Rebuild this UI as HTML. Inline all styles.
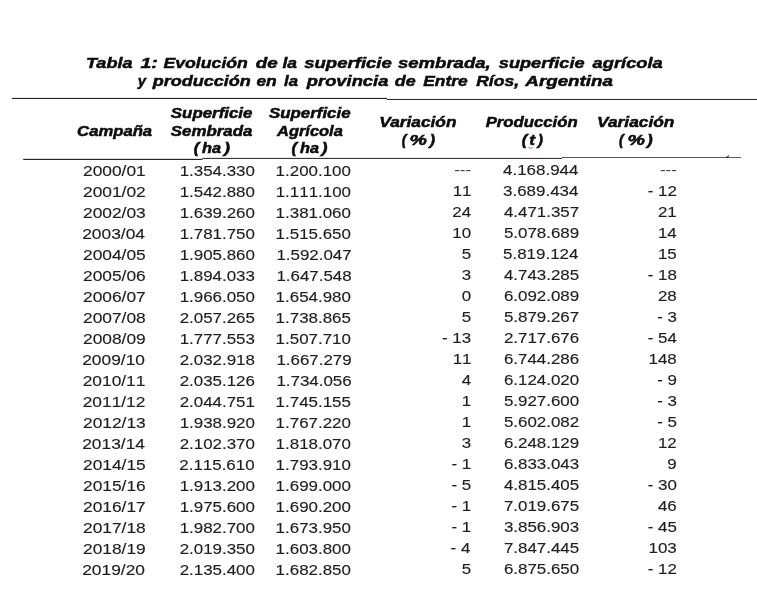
<!DOCTYPE html>
<html lang="es"><head><meta charset="utf-8"><title>Tabla 1</title>
<style>
html,body{margin:0;padding:0;background:#fff;}
body{width:757px;height:600px;overflow:hidden;font-family:"Liberation Sans",sans-serif;}
svg{display:block;filter:blur(0.35px);}
text{font-family:"Liberation Sans",sans-serif;}
.r{font-kerning:none;font-weight:400;font-style:normal;font-size:15.3px;fill:#1e1e1e;stroke:#1e1e1e;stroke-width:0.15px;}
.b{font-weight:700;font-style:italic;font-size:14.5px;fill:#0c0c0c;stroke:#0c0c0c;stroke-width:0.5px;}
.b.t{font-size:15.3px;}
.d{fill:#444;stroke:none;}
</style></head><body>
<svg width="757" height="600" viewBox="0 0 757 600">
<rect width="757" height="600" fill="#fff"/>
<rect x="11.9" y="97.9" width="375.1" height="1.05" fill="#1a1a1a"/>
<rect x="386.8" y="98.95" width="370.2" height="0.95" fill="#1a1a1a"/>
<rect x="23.2" y="158.85" width="179.3" height="1.1" fill="#1a1a1a"/>
<rect x="202.3" y="157.9" width="359.8" height="1.0" fill="#222"/>
<rect x="562" y="157.2" width="179" height="0.8" fill="#333"/>
<path d="M725.3 157.4 L729 155 L728.6 157.4 Z" fill="#333"/>
<path d="M528.3 147.3 q1.1 1.7 2.2 0.6 q1.1 1 2.2 -0.7" stroke="#e23a4a" stroke-width="0.9" fill="none"/>
<text class="b t" transform="translate(85.97,67.50) scale(1.1809,1)">Tabla</text>
<text class="b t" transform="translate(140.47,67.50) scale(1.2689,1)">1:</text>
<text class="b t" transform="translate(163.40,67.50) scale(1.1566,1)">Evolución</text>
<text class="b t" transform="translate(255.87,67.50) scale(1.2303,1)">de</text>
<text class="b t" transform="translate(282.39,67.50) scale(1.1393,1)">la</text>
<text class="b t" transform="translate(304.20,67.50) scale(1.2123,1)">superficie</text>
<text class="b t" transform="translate(397.90,67.50) scale(1.2144,1)">sembrada,</text>
<text class="b t" transform="translate(498.79,67.50) scale(1.1874,1)">superficie</text>
<text class="b t" transform="translate(592.60,67.50) scale(1.1963,1)">agrícola</text>
<text class="b t" transform="translate(137.72,86.20) scale(0.9646,1)">y</text>
<text class="b t" transform="translate(152.64,86.20) scale(1.1788,1)">producción</text>
<text class="b t" transform="translate(256.40,86.20) scale(1.1438,1)">en</text>
<text class="b t" transform="translate(284.00,86.20) scale(1.0980,1)">la</text>
<text class="b t" transform="translate(306.84,86.20) scale(1.1996,1)">provincia</text>
<text class="b t" transform="translate(394.79,86.20) scale(1.1703,1)">de</text>
<text class="b t" transform="translate(423.30,86.20) scale(1.1340,1)">Entre</text>
<text class="b t" transform="translate(476.18,86.20) scale(1.1458,1)">Ríos,</text>
<text class="b t" transform="translate(525.36,86.20) scale(1.2275,1)">Argentina</text>
<text class="b" transform="translate(77.10,136.00) scale(1.1501,1)">Campaña</text>
<text class="b" transform="translate(170.80,117.50) scale(1.1656,1)">Superficie</text>
<text class="b" transform="translate(170.80,136.00) scale(1.1656,1)">Sembrada</text>
<text class="b" transform="translate(193.85,153.40) scale(1.1319,1)">(</text>
<text class="b" transform="translate(202.00,153.40) scale(1.1259,1)">ha</text>
<text class="b" transform="translate(223.93,153.40) scale(1.2495,1)">)</text>
<text class="b" transform="translate(268.90,117.50) scale(1.1652,1)">Superficie</text>
<text class="b" transform="translate(277.03,136.00) scale(1.1351,1)">Agrícola</text>
<text class="b" transform="translate(291.54,153.40) scale(1.1319,1)">(</text>
<text class="b" transform="translate(300.00,153.40) scale(1.1259,1)">ha</text>
<text class="b" transform="translate(321.61,153.40) scale(1.2495,1)">)</text>
<text class="b" transform="translate(379.37,126.80) scale(1.1913,1)">Variación</text>
<text class="b" transform="translate(401.80,144.80) scale(0.9600,1)">(</text>
<text class="b" transform="translate(409.46,144.80) scale(1.3464,1)">%</text>
<text class="b" transform="translate(429.60,144.80) scale(1.1621,1)">)</text>
<text class="b" transform="translate(485.70,126.80) scale(1.1542,1)">Producción</text>
<text class="b" transform="translate(521.68,144.80) scale(1.1361,1)">(</text>
<text class="b" transform="translate(529.35,144.80) scale(1.1847,1)">t</text>
<text class="b" transform="translate(537.66,144.80) scale(1.0883,1)">)</text>
<text class="b" transform="translate(597.07,126.80) scale(1.1950,1)">Variación</text>
<text class="b" transform="translate(618.90,144.80) scale(0.9600,1)">(</text>
<text class="b" transform="translate(627.62,144.80) scale(1.3515,1)">%</text>
<text class="b" transform="translate(647.06,144.80) scale(1.1854,1)">)</text>
<text class="r" transform="translate(83.00,176.00) scale(1.1349,1)">2000/01</text>
<text class="r" transform="translate(179.63,176.00) scale(1.1072,1)">1.354.330</text>
<text class="r" transform="translate(275.61,176.00) scale(1.1072,1)">1.200.100</text>
<text class="r" transform="translate(454.16,175.40) scale(1.1072,1)"><tspan dy="-0.7" class="d">---</tspan></text>
<text class="r" transform="translate(503.09,175.40) scale(1.1072,1)">4.168.944</text>
<text class="r" transform="translate(659.90,175.40) scale(1.1072,1)"><tspan dy="-0.7" class="d">---</tspan></text>
<text class="r" transform="translate(83.00,196.98) scale(1.1349,1)">2001/02</text>
<text class="r" transform="translate(179.63,196.98) scale(1.1072,1)">1.542.880</text>
<text class="r" transform="translate(275.70,196.98) scale(1.1072,1)">1.111.100</text>
<text class="r" transform="translate(452.66,196.38) scale(1.1072,1)">11</text>
<text class="r" transform="translate(503.09,196.38) scale(1.1072,1)">3.689.434</text>
<text class="r" transform="translate(647.72,196.38) scale(1.1072,1)"><tspan dy="-0.2">-</tspan><tspan dy="0.2"> 12</tspan></text>
<text class="r" transform="translate(83.00,217.96) scale(1.1349,1)">2002/03</text>
<text class="r" transform="translate(179.63,217.96) scale(1.1072,1)">1.639.260</text>
<text class="r" transform="translate(275.61,217.96) scale(1.1072,1)">1.381.060</text>
<text class="r" transform="translate(452.22,217.36) scale(1.1072,1)">24</text>
<text class="r" transform="translate(503.89,217.36) scale(1.1072,1)">4.471.357</text>
<text class="r" transform="translate(657.96,217.36) scale(1.1072,1)">21</text>
<text class="r" transform="translate(82.20,238.94) scale(1.1349,1)">2003/04</text>
<text class="r" transform="translate(179.63,238.94) scale(1.1072,1)">1.781.750</text>
<text class="r" transform="translate(275.61,238.94) scale(1.1072,1)">1.515.650</text>
<text class="r" transform="translate(452.22,238.34) scale(1.1072,1)">10</text>
<text class="r" transform="translate(503.89,238.34) scale(1.1072,1)">5.078.689</text>
<text class="r" transform="translate(657.96,238.34) scale(1.1072,1)">14</text>
<text class="r" transform="translate(83.00,259.92) scale(1.1349,1)">2004/05</text>
<text class="r" transform="translate(179.63,259.92) scale(1.1072,1)">1.905.860</text>
<text class="r" transform="translate(276.41,259.92) scale(1.1072,1)">1.592.047</text>
<text class="r" transform="translate(461.63,259.32) scale(1.1072,1)">5</text>
<text class="r" transform="translate(503.09,259.32) scale(1.1072,1)">5.819.124</text>
<text class="r" transform="translate(657.96,259.32) scale(1.1072,1)">15</text>
<text class="r" transform="translate(83.00,280.89) scale(1.1349,1)">2005/06</text>
<text class="r" transform="translate(179.63,280.89) scale(1.1072,1)">1.894.033</text>
<text class="r" transform="translate(276.41,280.89) scale(1.1072,1)">1.647.548</text>
<text class="r" transform="translate(461.63,280.29) scale(1.1072,1)">3</text>
<text class="r" transform="translate(503.89,280.29) scale(1.1072,1)">4.743.285</text>
<text class="r" transform="translate(647.72,280.29) scale(1.1072,1)"><tspan dy="-0.2">-</tspan><tspan dy="0.2"> 18</tspan></text>
<text class="r" transform="translate(83.00,301.87) scale(1.1349,1)">2006/07</text>
<text class="r" transform="translate(179.63,301.87) scale(1.1072,1)">1.966.050</text>
<text class="r" transform="translate(275.61,301.87) scale(1.1072,1)">1.654.980</text>
<text class="r" transform="translate(461.63,301.27) scale(1.1072,1)">0</text>
<text class="r" transform="translate(503.89,301.27) scale(1.1072,1)">6.092.089</text>
<text class="r" transform="translate(657.96,301.27) scale(1.1072,1)">28</text>
<text class="r" transform="translate(83.00,322.85) scale(1.1349,1)">2007/08</text>
<text class="r" transform="translate(179.63,322.85) scale(1.1072,1)">2.057.265</text>
<text class="r" transform="translate(275.61,322.85) scale(1.1072,1)">1.738.865</text>
<text class="r" transform="translate(461.63,322.25) scale(1.1072,1)">5</text>
<text class="r" transform="translate(503.89,322.25) scale(1.1072,1)">5.879.267</text>
<text class="r" transform="translate(657.13,322.25) scale(1.1072,1)"><tspan dy="-0.2">-</tspan><tspan dy="0.2"> 3</tspan></text>
<text class="r" transform="translate(83.00,343.83) scale(1.1349,1)">2008/09</text>
<text class="r" transform="translate(179.63,343.83) scale(1.1072,1)">1.777.553</text>
<text class="r" transform="translate(275.61,343.83) scale(1.1072,1)">1.507.710</text>
<text class="r" transform="translate(441.98,343.23) scale(1.1072,1)"><tspan dy="-0.2">-</tspan><tspan dy="0.2"> 13</tspan></text>
<text class="r" transform="translate(503.89,343.23) scale(1.1072,1)">2.717.676</text>
<text class="r" transform="translate(647.72,343.23) scale(1.1072,1)"><tspan dy="-0.2">-</tspan><tspan dy="0.2"> 54</tspan></text>
<text class="r" transform="translate(82.20,364.81) scale(1.1349,1)">2009/10</text>
<text class="r" transform="translate(179.63,364.81) scale(1.1072,1)">2.032.918</text>
<text class="r" transform="translate(276.41,364.81) scale(1.1072,1)">1.667.279</text>
<text class="r" transform="translate(452.66,364.21) scale(1.1072,1)">11</text>
<text class="r" transform="translate(503.89,364.21) scale(1.1072,1)">6.744.286</text>
<text class="r" transform="translate(648.55,364.21) scale(1.1072,1)">148</text>
<text class="r" transform="translate(82.68,385.79) scale(1.1349,1)">2010/11</text>
<text class="r" transform="translate(179.63,385.79) scale(1.1072,1)">2.035.126</text>
<text class="r" transform="translate(276.41,385.79) scale(1.1072,1)">1.734.056</text>
<text class="r" transform="translate(461.63,385.19) scale(1.1072,1)">4</text>
<text class="r" transform="translate(503.89,385.19) scale(1.1072,1)">6.124.020</text>
<text class="r" transform="translate(657.13,385.19) scale(1.1072,1)"><tspan dy="-0.2">-</tspan><tspan dy="0.2"> 9</tspan></text>
<text class="r" transform="translate(82.68,406.77) scale(1.1349,1)">2011/12</text>
<text class="r" transform="translate(179.63,406.77) scale(1.1072,1)">2.044.751</text>
<text class="r" transform="translate(275.61,406.77) scale(1.1072,1)">1.745.155</text>
<text class="r" transform="translate(461.63,406.17) scale(1.1072,1)">1</text>
<text class="r" transform="translate(503.89,406.17) scale(1.1072,1)">5.927.600</text>
<text class="r" transform="translate(657.13,406.17) scale(1.1072,1)"><tspan dy="-0.2">-</tspan><tspan dy="0.2"> 3</tspan></text>
<text class="r" transform="translate(83.00,427.75) scale(1.1349,1)">2012/13</text>
<text class="r" transform="translate(179.63,427.75) scale(1.1072,1)">1.938.920</text>
<text class="r" transform="translate(275.61,427.75) scale(1.1072,1)">1.767.220</text>
<text class="r" transform="translate(461.63,427.15) scale(1.1072,1)">1</text>
<text class="r" transform="translate(503.89,427.15) scale(1.1072,1)">5.602.082</text>
<text class="r" transform="translate(657.13,427.15) scale(1.1072,1)"><tspan dy="-0.2">-</tspan><tspan dy="0.2"> 5</tspan></text>
<text class="r" transform="translate(82.20,448.73) scale(1.1349,1)">2013/14</text>
<text class="r" transform="translate(179.63,448.73) scale(1.1072,1)">2.102.370</text>
<text class="r" transform="translate(275.61,448.73) scale(1.1072,1)">1.818.070</text>
<text class="r" transform="translate(461.63,448.13) scale(1.1072,1)">3</text>
<text class="r" transform="translate(503.89,448.13) scale(1.1072,1)">6.248.129</text>
<text class="r" transform="translate(657.96,448.13) scale(1.1072,1)">12</text>
<text class="r" transform="translate(83.00,469.71) scale(1.1349,1)">2014/15</text>
<text class="r" transform="translate(179.28,469.71) scale(1.1072,1)">2.115.610</text>
<text class="r" transform="translate(275.61,469.71) scale(1.1072,1)">1.793.910</text>
<text class="r" transform="translate(451.39,469.11) scale(1.1072,1)"><tspan dy="-0.2">-</tspan><tspan dy="0.2"> 1</tspan></text>
<text class="r" transform="translate(503.89,469.11) scale(1.1072,1)">6.833.043</text>
<text class="r" transform="translate(667.37,469.11) scale(1.1072,1)">9</text>
<text class="r" transform="translate(83.00,490.68) scale(1.1349,1)">2015/16</text>
<text class="r" transform="translate(179.63,490.68) scale(1.1072,1)">1.913.200</text>
<text class="r" transform="translate(275.61,490.68) scale(1.1072,1)">1.699.000</text>
<text class="r" transform="translate(451.39,490.08) scale(1.1072,1)"><tspan dy="-0.2">-</tspan><tspan dy="0.2"> 5</tspan></text>
<text class="r" transform="translate(503.89,490.08) scale(1.1072,1)">4.815.405</text>
<text class="r" transform="translate(647.72,490.08) scale(1.1072,1)"><tspan dy="-0.2">-</tspan><tspan dy="0.2"> 30</tspan></text>
<text class="r" transform="translate(83.00,511.66) scale(1.1349,1)">2016/17</text>
<text class="r" transform="translate(179.63,511.66) scale(1.1072,1)">1.975.600</text>
<text class="r" transform="translate(275.61,511.66) scale(1.1072,1)">1.690.200</text>
<text class="r" transform="translate(451.39,511.06) scale(1.1072,1)"><tspan dy="-0.2">-</tspan><tspan dy="0.2"> 1</tspan></text>
<text class="r" transform="translate(503.89,511.06) scale(1.1072,1)">7.019.675</text>
<text class="r" transform="translate(657.96,511.06) scale(1.1072,1)">46</text>
<text class="r" transform="translate(83.00,532.64) scale(1.1349,1)">2017/18</text>
<text class="r" transform="translate(179.63,532.64) scale(1.1072,1)">1.982.700</text>
<text class="r" transform="translate(275.61,532.64) scale(1.1072,1)">1.673.950</text>
<text class="r" transform="translate(451.39,532.04) scale(1.1072,1)"><tspan dy="-0.2">-</tspan><tspan dy="0.2"> 1</tspan></text>
<text class="r" transform="translate(503.89,532.04) scale(1.1072,1)">3.856.903</text>
<text class="r" transform="translate(647.72,532.04) scale(1.1072,1)"><tspan dy="-0.2">-</tspan><tspan dy="0.2"> 45</tspan></text>
<text class="r" transform="translate(83.00,553.62) scale(1.1349,1)">2018/19</text>
<text class="r" transform="translate(179.63,553.62) scale(1.1072,1)">2.019.350</text>
<text class="r" transform="translate(275.61,553.62) scale(1.1072,1)">1.603.800</text>
<text class="r" transform="translate(450.59,553.02) scale(1.1072,1)"><tspan dy="-0.2">-</tspan><tspan dy="0.2"> 4</tspan></text>
<text class="r" transform="translate(503.89,553.02) scale(1.1072,1)">7.847.445</text>
<text class="r" transform="translate(648.55,553.02) scale(1.1072,1)">103</text>
<text class="r" transform="translate(82.20,574.60) scale(1.1349,1)">2019/20</text>
<text class="r" transform="translate(179.63,574.60) scale(1.1072,1)">2.135.400</text>
<text class="r" transform="translate(275.61,574.60) scale(1.1072,1)">1.682.850</text>
<text class="r" transform="translate(461.63,574.00) scale(1.1072,1)">5</text>
<text class="r" transform="translate(503.89,574.00) scale(1.1072,1)">6.875.650</text>
<text class="r" transform="translate(647.72,574.00) scale(1.1072,1)"><tspan dy="-0.2">-</tspan><tspan dy="0.2"> 12</tspan></text>
</svg>
</body></html>
